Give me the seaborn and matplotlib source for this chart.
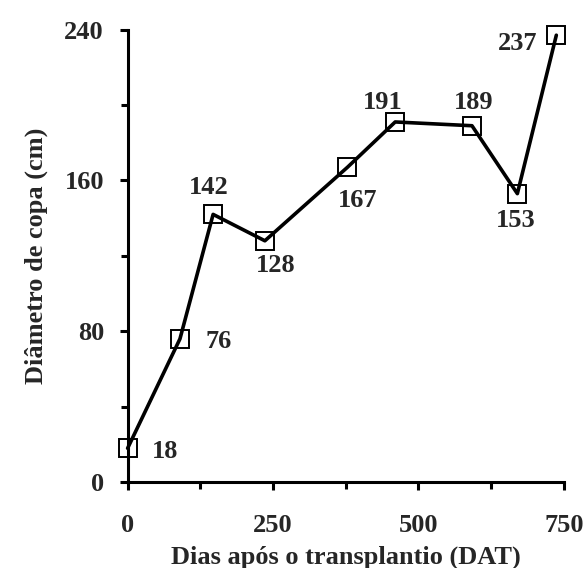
import matplotlib
matplotlib.use('Agg')

import pandas as pd
import seaborn as sns
from matplotlib import pyplot as plt
from matplotlib import ticker

days = [0, 90, 147, 236, 378, 460, 592, 670, 737]
diameter = [18, 76, 142, 128, 167, 191, 189, 153, 237]
labels = ['18', '76', '142', '128', '167', '191', '189', '153', '237']
# label offsets in points (dx, dy)
offsets = [(27, -2), (28, -2), (-3, 19), (8, -18), (7, -24), (-9, 14), (1, 17), (-1, -19), (-28, -6)]

df = pd.DataFrame({'days': days, 'diameter': diameter})

sns.set_style('ticks')
plt.rcParams['font.family'] = ['Liberation Serif', 'DejaVu Serif']
plt.rcParams['font.weight'] = 'bold'

fs = 19

fig = plt.figure(figsize=(5.88, 5.68), dpi=100)
ax = fig.add_axes([0.217, 0.151, 0.742, 0.797])

sns.lineplot(df, x='days', y='diameter', ax=ax, color='black', linewidth=2.6,
             marker='s', markersize=12.5, markerfacecolor='none',
             markeredgecolor='black', markeredgewidth=1.4, clip_on=False, zorder=5)

for x, y, t, (dx, dy) in zip(days, diameter, labels, offsets):
    ax.annotate(t, (x, y), xytext=(dx, dy), textcoords='offset points',
                ha='center', va='center', fontsize=fs, fontweight='bold')

ax.set_xlim(0, 750)
ax.set_ylim(0, 240)
ax.xaxis.set_major_locator(ticker.MultipleLocator(250))
ax.xaxis.set_minor_locator(ticker.MultipleLocator(125))
ax.yaxis.set_major_locator(ticker.MultipleLocator(80))
ax.yaxis.set_minor_locator(ticker.MultipleLocator(40))

sns.despine(ax=ax)
for side in ['left', 'bottom']:
    ax.spines[side].set_linewidth(2.2)
    ax.spines[side].set_color('black')
ax.tick_params(which='major', length=6, width=2.2, color='black', labelsize=fs)
ax.tick_params(which='minor', length=5, width=2.2, color='black')
ax.tick_params(axis='x', which='major', pad=17)
ax.tick_params(axis='y', which='major', pad=11)
for lbl in ax.get_xticklabels() + ax.get_yticklabels():
    lbl.set_fontweight('bold')

ax.set_xlabel('Dias após o transplantio (DAT)', fontsize=fs, fontweight='bold', labelpad=6)
ax.set_ylabel('Diâmetro de copa (cm)', fontsize=fs, fontweight='bold', labelpad=12)

fig.savefig('out.png', dpi=100)
